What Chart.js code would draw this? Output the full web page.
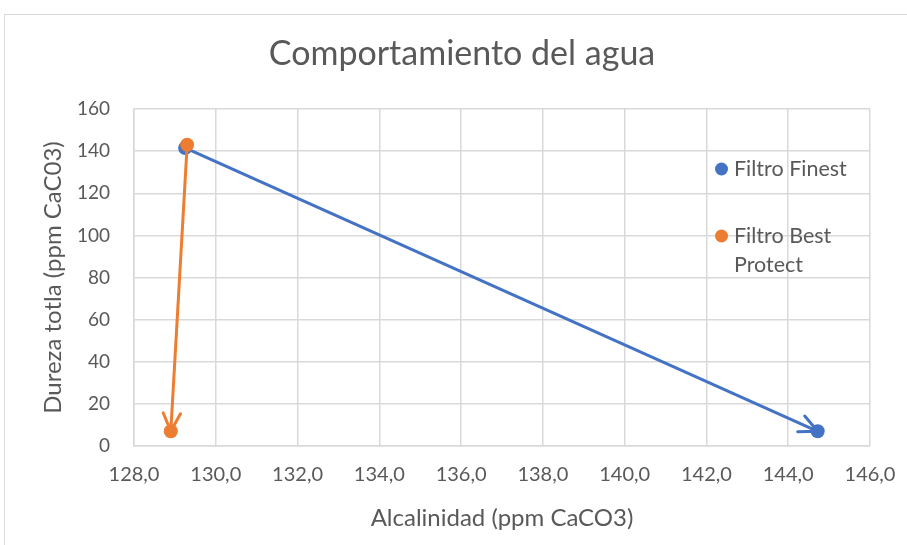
<!DOCTYPE html>
<html>
<head>
<meta charset="utf-8">
<script src="https://cdn.jsdelivr.net/npm/chart.js@4"></script>
<style>
  html, body { margin: 0; padding: 0; background: #fff; }
  #frame { position: absolute; left: 4px; top: 14px; width: 920px; height: 545px; border-left: 1px solid #d9d9d9; border-top: 1px solid #d9d9d9; }
  #wrap { position: absolute; left: 0; top: 0; width: 907px; height: 545px; }
</style>
</head>
<body>
<div id="frame"></div>
<div id="wrap"><canvas id="c" width="907" height="545"></canvas></div>
<script>
// Alkalinity (x) and total hardness (y) for each filter, before and after
const alcFinest = [129.25, 144.72];
const durFinest = [141.5, 7];
const alcBest = [129.3, 128.9];
const durBest = [143, 7];
const seriesNames = ['Filtro Finest', ['Filtro Best', 'Protect']];
const chartTitle = 'Comportamiento del agua';
const xTitle = 'Alcalinidad (ppm CaCO3)';
const yTitle = 'Dureza totla (ppm CaC03)';

const BLUE = '#4472C4';
const ORANGE = '#ED7D31';
const TEXT = '#595959';
const GRID = '#d9d9d9';
const FONT = 'Lato, "Open Sans", sans-serif';

const toPoints = (xs, ys) => xs.map((x, i) => ({ x: x, y: ys[i] }));

// Title drawn above the plot
const titlePlugin = {
  id: 'titleText',
  afterDraw(chart) {
    const ctx = chart.ctx;
    ctx.save();
    ctx.fillStyle = TEXT;
    ctx.font = '34px ' + FONT;
    ctx.textAlign = 'center';
    ctx.textBaseline = 'middle';
    ctx.fillText(chartTitle, 462, 54);
    ctx.restore();
  }
};

// Open arrowheads at the last point of every series
const arrowPlugin = {
  id: 'arrows',
  afterDatasetsDraw(chart) {
    const ctx = chart.ctx;
    chart.data.datasets.forEach((ds, i) => {
      const meta = chart.getDatasetMeta(i);
      const n = meta.data.length;
      const a = meta.data[n - 2], b = meta.data[n - 1];
      const ang = Math.atan2(b.y - a.y, b.x - a.x);
      const len = 20, spread = Math.PI / 7;
      ctx.save();
      ctx.strokeStyle = ds.borderColor;
      ctx.lineWidth = 3;
      ctx.lineCap = 'round';
      ctx.beginPath();
      ctx.moveTo(b.x - len * Math.cos(ang - spread), b.y - len * Math.sin(ang - spread));
      ctx.lineTo(b.x, b.y);
      ctx.lineTo(b.x - len * Math.cos(ang + spread), b.y - len * Math.sin(ang + spread));
      ctx.stroke();
      ctx.restore();
    });
  }
};

// Legend placed inside the right part of the plot
const legendPlugin = {
  id: 'inlineLegend',
  afterDraw(chart) {
    const ctx = chart.ctx;
    const rows = [
      { color: BLUE, label: seriesNames[0], y: 169 },
      { color: ORANGE, label: seriesNames[1], y: 236 }
    ];
    ctx.save();
    ctx.font = '21.5px ' + FONT;
    ctx.textBaseline = 'middle';
    ctx.textAlign = 'left';
    rows.forEach(r => {
      ctx.fillStyle = r.color;
      ctx.beginPath();
      ctx.arc(721.5, r.y, 6.5, 0, Math.PI * 2);
      ctx.fill();
      ctx.fillStyle = TEXT;
      const lines = Array.isArray(r.label) ? r.label : [r.label];
      lines.forEach((t, k) => ctx.fillText(t, 734, r.y + k * 29));
    });
    ctx.restore();
  }
};

new Chart(document.getElementById('c'), {
  type: 'scatter',
  data: {
    datasets: [
      {
        label: 'Filtro Finest',
        data: toPoints(alcFinest, durFinest),
        showLine: true,
        borderColor: BLUE,
        backgroundColor: BLUE,
        borderWidth: 3,
        pointRadius: 7,
        pointHoverRadius: 7,
        pointBorderWidth: 0,
        order: 1
      },
      {
        label: 'Filtro Best Protect',
        data: toPoints(alcBest, durBest),
        showLine: true,
        borderColor: ORANGE,
        backgroundColor: ORANGE,
        borderWidth: 3,
        pointRadius: 7,
        pointHoverRadius: 7,
        pointBorderWidth: 0,
        order: 0
      }
    ]
  },
  options: {
    responsive: false,
    animation: false,
    events: [],
    layout: { padding: { left: 30, right: 37, top: 109, bottom: 12 } },
    plugins: { legend: { display: false }, tooltip: { enabled: false }, title: { display: false } },
    scales: {
      x: {
        type: 'linear',
        min: 128, max: 146,
        ticks: {
          stepSize: 2,
          color: TEXT,
          font: { family: FONT, size: 20 },
          padding: 17,
          callback: v => v.toFixed(1).replace('.', ',')
        },
        grid: { color: GRID, lineWidth: 1.5, drawTicks: false },
        border: { color: GRID, width: 1.5 },
        title: { display: true, text: xTitle, color: TEXT, font: { family: FONT, size: 24 }, padding: { top: 0, bottom: 0 } },
        afterFit: s => { s.height = 87; s.paddingLeft = 0; s.paddingRight = 0; }
      },
      y: {
        type: 'linear',
        min: 0, max: 160,
        ticks: {
          stepSize: 20,
          color: TEXT,
          font: { family: FONT, size: 19 },
          padding: 24
        },
        grid: { color: GRID, lineWidth: 1.5, drawTicks: false },
        border: { color: GRID, width: 1.5 },
        title: { display: true, text: yTitle, color: TEXT, font: { family: FONT, size: 24 }, padding: { top: 9, bottom: 0 } },
        afterFit: s => { s.width = 104; s.paddingTop = 0; s.paddingBottom = 0; }
      }
    }
  },
  plugins: [titlePlugin, arrowPlugin, legendPlugin]
});
</script>
</body>
</html>
